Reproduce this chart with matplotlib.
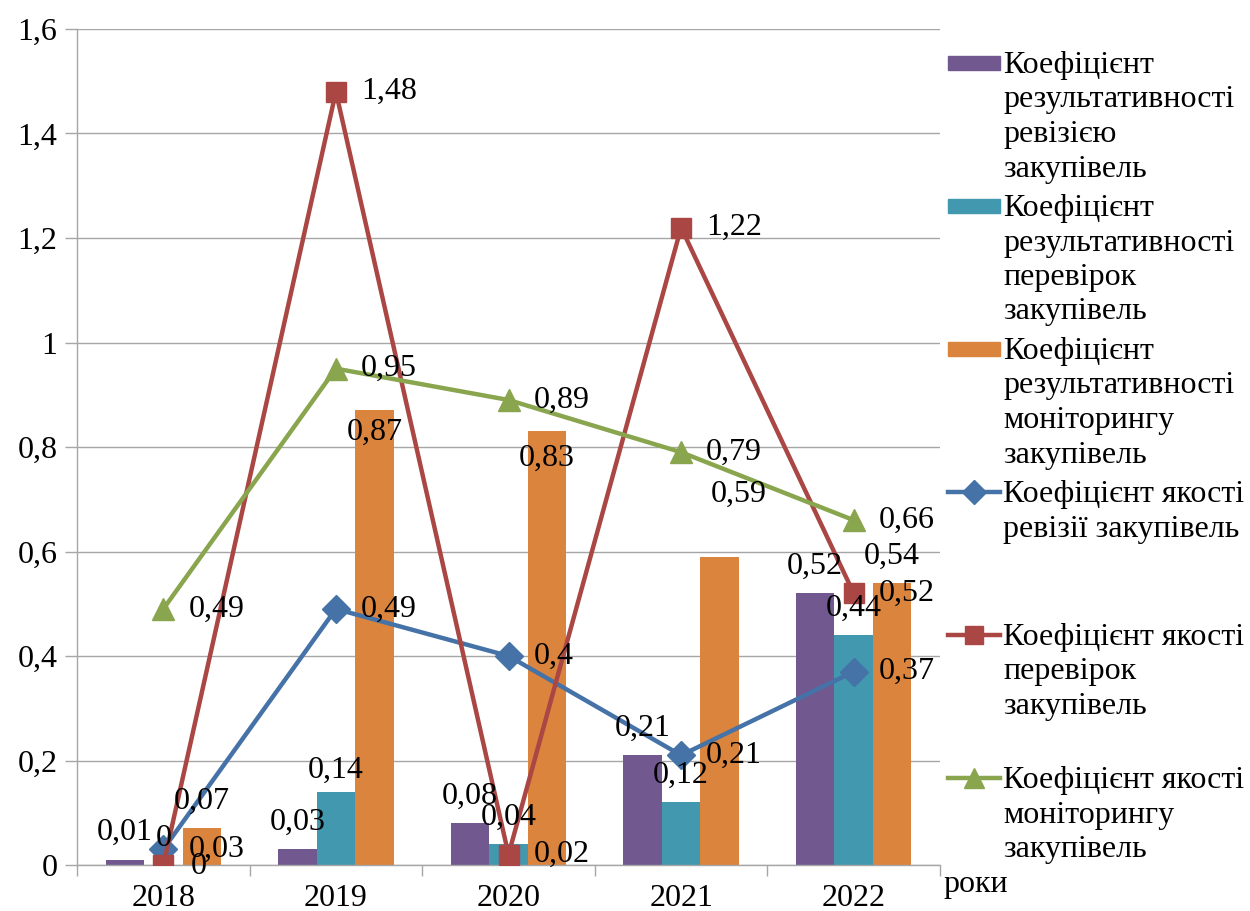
import numpy as np
import matplotlib
matplotlib.use("Agg")
import matplotlib.pyplot as plt
from matplotlib.patches import Rectangle
from matplotlib.lines import Line2D

# ── DATA ──────────────────────────────────────────────────────────────────────
years = ["2018", "2019", "2020", "2021", "2022"]

# bar series: coefficients of effectiveness
eff_audit = [0.01, 0.03, 0.08, 0.21, 0.52]
eff_inspect = [0.0, 0.14, 0.04, 0.12, 0.44]
eff_monitor = [0.07, 0.87, 0.83, 0.59, 0.54]

# line series: coefficients of quality
qual_audit = [0.03, 0.49, 0.40, 0.21, 0.37]
qual_inspect = [0.0, 1.48, 0.02, 1.22, 0.52]
qual_monitor = [0.49, 0.95, 0.89, 0.79, 0.66]

bar_names = [
    "Коефіцієнт\nрезультативності\nревізією\nзакупівель",
    "Коефіцієнт\nрезультативності\nперевірок\nзакупівель",
    "Коефіцієнт\nрезультативності\nмоніторингу\nзакупівель",
]
line_names = [
    "Коефіцієнт якості\nревізії закупівель",
    "Коефіцієнт якості\nперевірок\nзакупівель",
    "Коефіцієнт якості\nмоніторингу\nзакупівель",
]

# ── STYLE ─────────────────────────────────────────────────────────────────────
plt.rcParams["font.family"] = "serif"
plt.rcParams["font.serif"] = ["Liberation Serif", "DejaVu Serif"]
FS = 23
BAR_COLORS = ["#71588F", "#4198AF", "#DB843D"]
LINE_COLORS = ["#4572A7", "#AA4643", "#89A54E"]
MARKERS = [("D", 14), ("s", 15), ("^", 16)]
GRID = "#a6a6a6"

W, H = 1250, 911
fig = plt.figure(figsize=(W / 100, H / 100), dpi=100)
ax = fig.add_axes([77 / W, 1 - 865 / H, (940 - 77) / W, (865 - 29) / H])


def fmt(v):
    return f"{v:g}".replace(".", ",")


x = np.arange(len(years))
bw = 0.223
bars = [eff_audit, eff_inspect, eff_monitor]
lines = [qual_audit, qual_inspect, qual_monitor]

for i, vals in enumerate(bars):
    ax.bar(x + (i - 1) * bw, vals, width=bw, color=BAR_COLORS[i], zorder=2)

for i, vals in enumerate(lines):
    m, ms = MARKERS[i]
    ax.plot(x, vals, color=LINE_COLORS[i], lw=3.2, marker=m, markersize=ms,
            markeredgecolor=LINE_COLORS[i], zorder=3)

# data labels (pixel offsets from the bar top / point)
bar_offsets = {(2, 1): (0, -22), (2, 2): (0, -27), (2, 3): (19, 62), (1, 1): (0, 22)}
for i, vals in enumerate(bars):
    for j, v in enumerate(vals):
        dx, dy = bar_offsets.get((i, j), (0, 27))
        ax.annotate(fmt(v), (x[j] + (i - 1) * bw, v), xytext=(dx, dy),
                    textcoords="offset pixels", ha="center", va="center",
                    fontsize=FS, zorder=5)

line_offsets = {(1, 0): (27, -2)}
for i, vals in enumerate(lines):
    for j, v in enumerate(vals):
        dx, dy = line_offsets.get((i, j), (25, 0))
        ax.annotate(fmt(v), (x[j], v), xytext=(dx, dy),
                    textcoords="offset pixels", ha="left", va="center",
                    fontsize=FS, zorder=5)

# axes
ax.set_xlim(-0.5, len(years) - 0.5)
ax.set_ylim(0, 1.6)
ticks = np.arange(0, 1.61, 0.2)
ax.set_yticks(ticks)
ax.set_yticklabels([fmt(round(t, 1)) for t in ticks], fontsize=FS)
ax.set_xticks(x)
ax.set_xticklabels(years, fontsize=FS)
ax.set_xticks(np.arange(-0.5, len(years), 1), minor=True)
ax.tick_params(axis="x", which="major", length=0, pad=14)
ax.tick_params(axis="x", which="minor", length=8, color=GRID, width=1)
ax.tick_params(axis="y", length=9, color=GRID, width=1, pad=5)
ax.grid(axis="y", color=GRID, lw=1, zorder=0)
ax.set_axisbelow(True)
for s in ["top", "right"]:
    ax.spines[s].set_visible(False)
for s in ["left", "bottom"]:
    ax.spines[s].set_color(GRID)
    ax.spines[s].set_linewidth(1)

fig.text(943 / W, 1 - 892 / H, "роки", fontsize=FS, ha="left", va="baseline")

# legend drawn by hand: one fixed slot per entry
slot, line_h = 143, 34.5
entries = [("bar", c, n) for c, n in zip(BAR_COLORS, bar_names)] + \
          [("line", (c, mk), n) for c, mk, n in zip(LINE_COLORS, MARKERS, line_names)]
for k, (kind, style, name) in enumerate(entries):
    y0 = 63 + slot * k
    if kind == "bar":
        fig.patches.append(Rectangle((948 / W, 1 - (y0 + 7) / H), 52 / W, 14 / H,
                                     transform=fig.transFigure, color=style))
    else:
        c, (m, ms) = style
        fig.add_artist(Line2D([948 / W, 1000 / W], [1 - y0 / H] * 2, color=c, lw=3.2,
                              transform=fig.transFigure))
        fig.add_artist(Line2D([974 / W], [1 - y0 / H], color=c, marker=m, markersize=ms - 2,
                              transform=fig.transFigure))
    for j, part in enumerate(name.split("\n")):
        fig.text(1003 / W, 1 - (y0 + 10 + line_h * j) / H, part, fontsize=FS,
                 ha="left", va="baseline")

fig.savefig("out.png", dpi=100)
